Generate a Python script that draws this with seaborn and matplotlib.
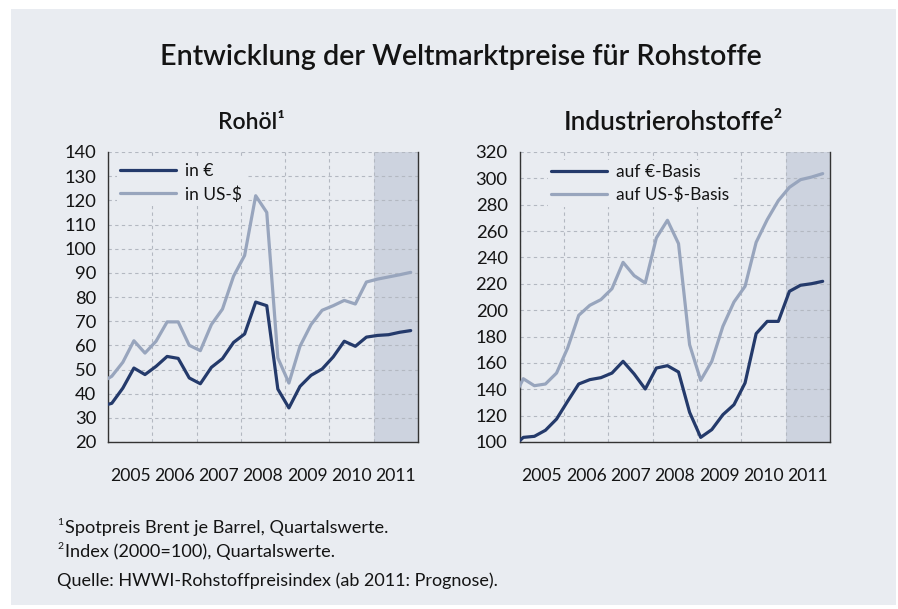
import matplotlib
matplotlib.use("Agg")
import matplotlib.pyplot as plt
import seaborn as sns
import pandas as pd
from matplotlib.patches import Rectangle
from matplotlib.lines import Line2D

# ---------------- data ----------------
years = [2005, 2006, 2007, 2008, 2009, 2010, 2011]
# quarterly values, first entry = 2004 Q4 (only its connecting segment is visible at the left edge)
quarters = ["2004Q4"] + [f"{y}Q{q}" for y in years for q in (1, 2, 3, 4)]

oil_eur = [34.8, 36.0, 42.3, 50.6, 47.9, 51.3, 55.4, 54.6, 46.5, 44.1, 50.9, 54.5, 61.2, 64.7,
           77.9, 76.4, 41.9, 34.1, 43.0, 47.6, 50.2, 55.2, 61.7, 59.6, 63.4, 64.1, 64.4, 65.4, 66.1]
oil_usd = [44.5, 47.2, 53.0, 61.9, 56.8, 61.7, 69.7, 69.7, 60.0, 57.8, 68.6, 75.0, 88.6, 97.2,
           121.9, 115.0, 54.8, 44.4, 59.6, 68.6, 74.5, 76.4, 78.6, 77.1, 86.2, 87.4, 88.3, 89.2, 90.2]
ind_eur = [95.5, 103.5, 104.3, 108.9, 117.4, 130.9, 144.0, 147.3, 148.8, 152.3, 161.2, 151.6, 140.2, 156.1,
           157.9, 153.1, 122.5, 103.5, 109.4, 120.7, 128.3, 144.8, 182.2, 191.5, 191.5, 214.3, 218.9, 220.1, 221.9]
ind_usd = [131.0, 148.0, 142.7, 144.0, 152.3, 171.3, 196.1, 203.7, 208.0, 216.3, 236.3, 226.2, 220.6, 254.8,
           268.2, 250.5, 173.8, 146.8, 161.2, 187.7, 206.2, 218.1, 251.5, 268.7, 283.1, 293.2, 299.0, 301.0, 303.6]

oil_labels = ["in €", "in US-$"]
ind_labels = ["auf €-Basis", "auf US-$-Basis"]
oil_yticks = [20, 30, 40, 50, 60, 70, 80, 90, 100, 110, 120, 130, 140]
ind_yticks = [100, 120, 140, 160, 180, 200, 220, 240, 260, 280, 300, 320]
forecast_year = 2011

title = "Entwicklung der Weltmarktpreise für Rohstoffe"
sub_left = "Rohöl¹"
sub_right = "Industrierohstoffe²"
foot1 = "Spotpreis Brent je Barrel, Quartalswerte."
foot2 = "Index (2000=100), Quartalswerte."
source = "Quelle: HWWI-Rohstoffpreisindex (ab 2011: Prognose)."

# ---------------- style ----------------
BG = "#e9ecf1"
SHADE = "#cdd3df"
NAVY = "#243a6b"
LIGHT = "#98a5bd"
GRID = "#b3b8c1"
SPINE = "#333333"
TXT = "#141414"

sns.set_style("white")
plt.rcParams["font.family"] = ["Lato", "DejaVu Sans"]
plt.rcParams["text.color"] = TXT

W, H, DPI = 898, 609, 100
fig = plt.figure(figsize=(W / DPI, H / DPI), dpi=DPI, facecolor="white")
fig.patches.append(Rectangle((11 / W, 1 - 605 / H), (896 - 11) / W, (605 - 9) / H,
                             transform=fig.transFigure, facecolor=BG, edgecolor="none", zorder=-5))


def qpos(q):
    y, n = int(q[:4]), int(q[-1])
    return y + (n - 1) / 4 + 0.085


xpos = [qpos(q) for q in quarters]
XTICK_FS = 12.6
YTICK_FS = 13.2


def make_panel(rect, s1, s2, labels, yticks, legend_anchor):
    ax = fig.add_axes(rect)
    ax.set_facecolor(BG)
    df = pd.DataFrame({"x": xpos, "a": s1, "b": s2})
    ax.axvspan(forecast_year, years[-1] + 1, color=SHADE, zorder=0.2, lw=0)
    sns.lineplot(data=df, x="x", y="b", ax=ax, color=LIGHT, linewidth=2.3, zorder=3)
    sns.lineplot(data=df, x="x", y="a", ax=ax, color=NAVY, linewidth=2.3, zorder=4)
    ax.set_xlim(years[0], years[-1] + 1)
    ax.set_ylim(yticks[0], yticks[-1])
    ax.set_yticks(yticks)
    ax.set_xticks(years + [years[-1] + 1])
    ax.set_xticklabels([])
    ax.set_xticks([y + 0.5 for y in years], minor=True)
    ax.set_xticklabels([str(y) for y in years], minor=True)
    ax.tick_params(axis="x", which="major", direction="out", length=3, width=1, color=SPINE)
    ax.tick_params(axis="x", which="minor", length=0, pad=19, labelsize=XTICK_FS, labelcolor=TXT)
    ax.tick_params(axis="y", direction="out", length=3.5, width=1, color=SPINE, pad=5,
                   labelsize=YTICK_FS, labelcolor=TXT)
    ax.set_xlabel("")
    ax.set_ylabel("")
    ax.set_axisbelow(True)
    ax.grid(True, which="major", linestyle=(0, (3, 3)), color=GRID, linewidth=0.8)
    for s in ("left", "bottom", "right"):
        ax.spines[s].set_visible(True)
        ax.spines[s].set_color(SPINE)
        ax.spines[s].set_linewidth(1.0)
    ax.spines["top"].set_visible(False)
    handles = [Line2D([], [], color=NAVY, lw=2.3), Line2D([], [], color=LIGHT, lw=2.3)]
    leg = ax.legend(handles, labels, loc="upper left", bbox_to_anchor=legend_anchor,
                    frameon=True, facecolor=BG, edgecolor="none", framealpha=1, fancybox=False,
                    borderpad=0.2, borderaxespad=0, handlelength=3.2, handletextpad=0.55,
                    labelspacing=0.42, fontsize=12.5)
    leg.set_zorder(5)
    return ax


ax1 = make_panel([108 / W, 1 - 442 / H, 310 / W, 290 / H], oil_eur, oil_usd, oil_labels, oil_yticks,
                 (0.028, 0.975))
ax2 = make_panel([519.5 / W, 1 - 442 / H, 310.5 / W, 290 / H], ind_eur, ind_usd, ind_labels, ind_yticks,
                 (0.091, 0.972))

# ---------------- texts ----------------
t_title = fig.text(461 / W, 1 - 65 / H, title, ha="center", va="baseline", fontsize=20, fontweight="semibold")
t_s1 = fig.text(251.5 / W, 1 - 129 / H, sub_left, ha="center", va="baseline", fontsize=15, fontweight="semibold")
t_s2 = fig.text(673 / W, 1 - 130 / H, sub_right, ha="center", va="baseline", fontsize=15, fontweight="semibold")

fig.text(57 / W, 1 - 525 / H, "1", ha="left", va="baseline", fontsize=7.5)
t_f1 = fig.text(65 / W, 1 - 533 / H, foot1, ha="left", va="baseline", fontsize=12)
fig.text(57 / W, 1 - 549 / H, "2", ha="left", va="baseline", fontsize=7.5)
t_f2 = fig.text(65 / W, 1 - 557 / H, foot2, ha="left", va="baseline", fontsize=12)
t_src = fig.text(57 / W, 1 - 586 / H, source, ha="left", va="baseline", fontsize=12)

fig.canvas.draw()
r = fig.canvas.get_renderer()
for t, target in [(t_title, 602), (t_s1, 67), (t_s2, 220), (t_f1, 323), (t_src, 440)]:
    w = t.get_window_extent(r).width
    t.set_fontsize(t.get_fontsize() * target / w)
t_f2.set_fontsize(t_f1.get_fontsize())

fig.savefig("out.png", dpi=DPI, facecolor="white")
